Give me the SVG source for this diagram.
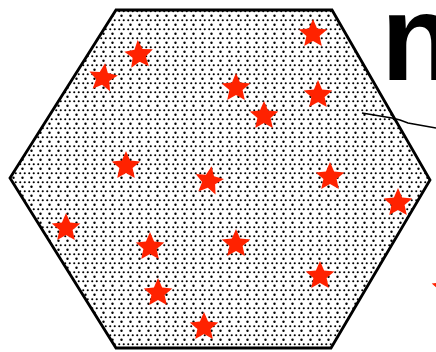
<svg xmlns="http://www.w3.org/2000/svg" xmlns:xlink="http://www.w3.org/1999/xlink" width="436" height="352" viewBox="0 0 436 352">
<defs>
<style>
.star{fill:#ff2200;}
.hex{stroke:#000;stroke-width:2.8;stroke-linejoin:miter;}
.lbl{font-family:"Liberation Sans",Arial,sans-serif;font-weight:bold;font-size:122px;fill:#000;}
</style>
<pattern id="dots" x="0" y="0" width="9" height="9" patternUnits="userSpaceOnUse">
<rect width="9" height="9" fill="#fff"/>
<circle cx="2.25" cy="2.25" r="1.05" fill="#000"/>
<circle cx="6.75" cy="2.25" r="1.05" fill="#000"/>
<circle cx="4.5" cy="6.75" r="1.2" fill="#000"/>
</pattern>
<polygon id="st" points="0,-15 4.1,-5.6 14.3,-4.6 6.6,2.1 8.8,12.1 0,6.9 -8.8,12.1 -6.6,2.1 -14.3,-4.6 -4.1,-5.6"/>
</defs>
<rect width="436" height="352" fill="#fff"/>
<g id="hexagon">
<path class="hex" d="M116,10 L332,10 L430,180 L331,348 L116,348 L10,178 Z" fill="url(#dots)"/>
</g>
<g id="stars">
<use xlink:href="#st" class="star" transform="translate(313,34)"/>
<use xlink:href="#st" class="star" transform="translate(139,55) rotate(-5)"/>
<use xlink:href="#st" class="star" transform="translate(103,78) rotate(8)"/>
<use xlink:href="#st" class="star" transform="translate(236,88)"/>
<use xlink:href="#st" class="star" transform="translate(318,95)"/>
<use xlink:href="#st" class="star" transform="translate(264,116)"/>
<use xlink:href="#st" class="star" transform="translate(126,166)"/>
<use xlink:href="#st" class="star" transform="translate(209,181) rotate(10)"/>
<use xlink:href="#st" class="star" transform="translate(330,177)"/>
<use xlink:href="#st" class="star" transform="translate(398,203)"/>
<use xlink:href="#st" class="star" transform="translate(66,228)"/>
<use xlink:href="#st" class="star" transform="translate(150,247)"/>
<use xlink:href="#st" class="star" transform="translate(236,244)"/>
<use xlink:href="#st" class="star" transform="translate(158,293)"/>
<use xlink:href="#st" class="star" transform="translate(320,276)"/>
<use xlink:href="#st" class="star" transform="translate(204,327)"/>
<use xlink:href="#st" class="star" transform="translate(446,288)"/>
</g>
<g id="connectors">
<polyline points="362,113 392,118 400,120 408,123 436,128" fill="none" stroke="#000" stroke-width="1.6"/>
</g>
<g id="label">
<text class="lbl" x="381" y="80">n</text>
</g>
</svg>
